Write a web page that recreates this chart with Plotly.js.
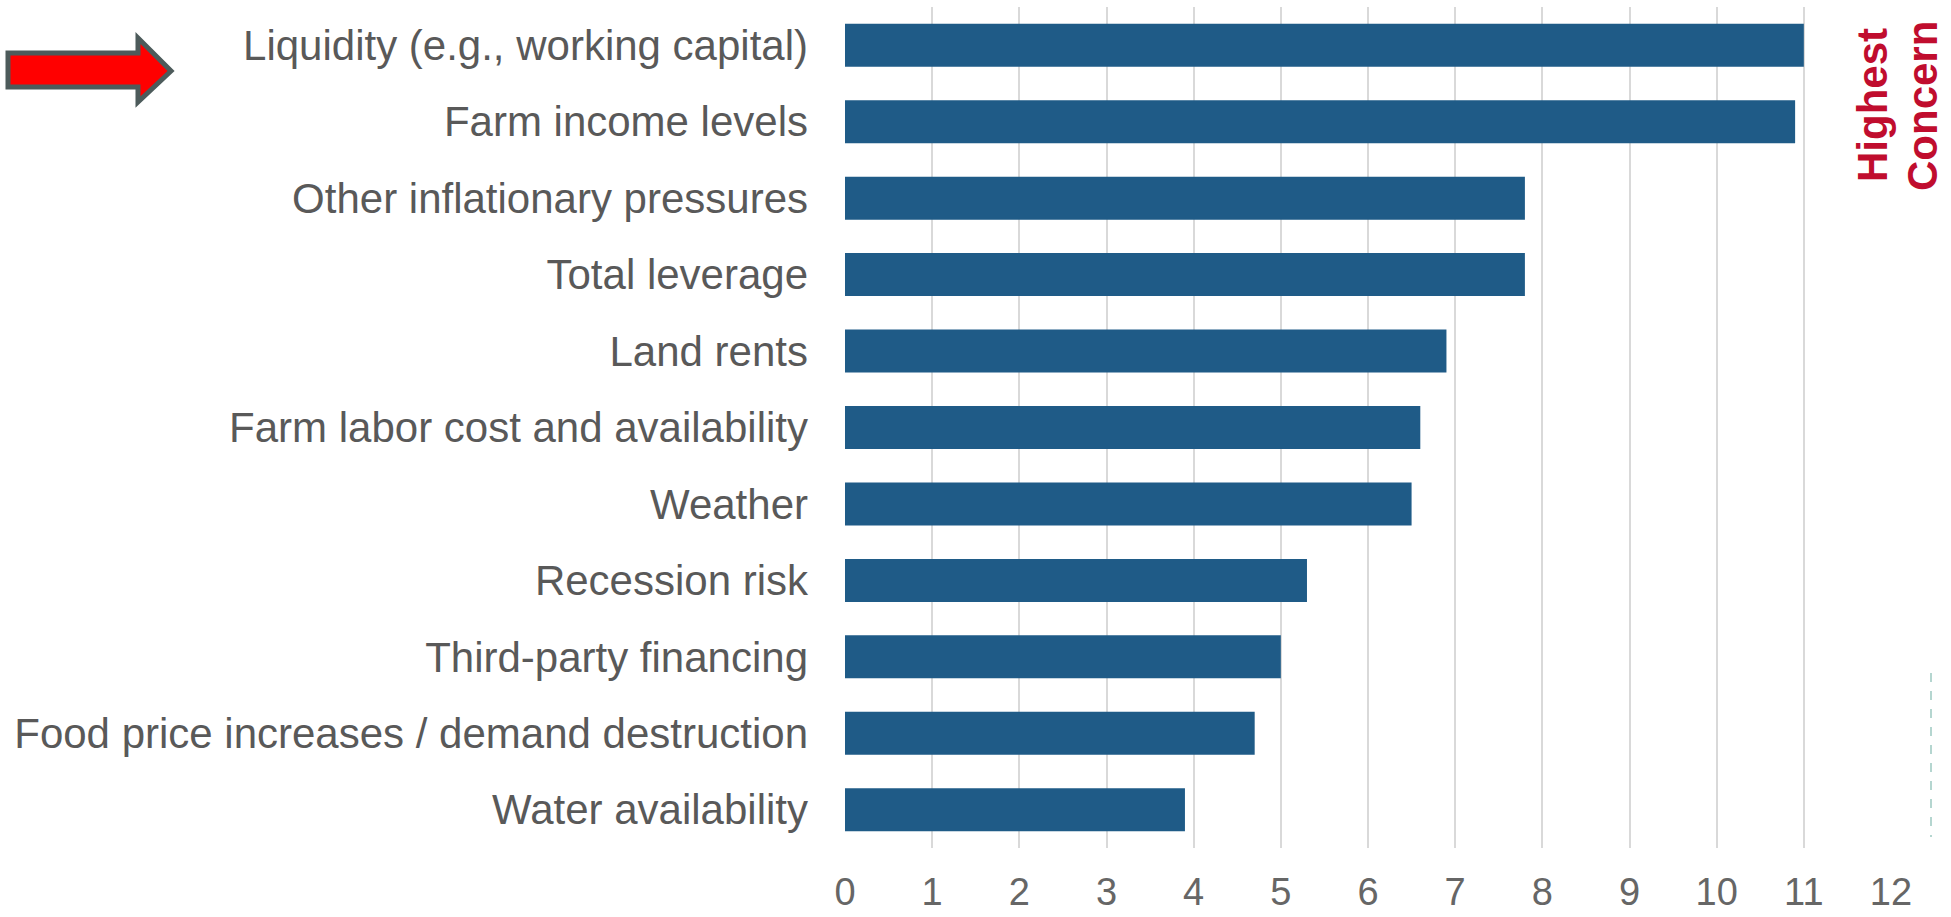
<!DOCTYPE html>
<html>
<head>
<meta charset="utf-8">
<script src="https://cdn.plot.ly/plotly-3.0.1.min.js"></script>
<style>html,body{margin:0;padding:0;background:#fff;}#chart{width:1951px;height:917px;}</style>
</head>
<body>
<div id="chart"></div>
<script>
const categories = [
  "Liquidity (e.g., working capital)",
  "Farm income levels",
  "Other inflationary pressures",
  "Total leverage",
  "Land rents",
  "Farm labor cost and availability",
  "Weather",
  "Recession risk",
  "Third-party financing",
  "Food price increases / demand destruction",
  "Water availability"
];
const values = [11.0, 10.9, 7.8, 7.8, 6.9, 6.6, 6.5, 5.3, 5.0, 4.7, 3.9];
const xTicks = [0,1,2,3,4,5,6,7,8,9,10,11,12];

const W = 1951, H = 917;
const px = x => x / W;
const py = y => 1 - y / H;

const arrowPts = [[8,53],[138,53],[138,38],[171,71],[138,102],[138,87],[8,87]];
const arrowPath = 'M ' + arrowPts.map(p => px(p[0]).toFixed(5) + ',' + py(p[1]).toFixed(5)).join(' L ') + ' Z';

const labelFont = "'Liberation Sans', Arial, Helvetica, sans-serif";

const trace = {
  type: 'bar',
  orientation: 'h',
  y: categories,
  x: values,
  marker: {color: '#1f5b87', line: {width: 0}},
  hoverinfo: 'x+y'
};

const layout = {
  width: W, height: H,
  margin: {l: 0, r: 0, t: 0, b: 0},
  paper_bgcolor: '#ffffff',
  plot_bgcolor: '#ffffff',
  showlegend: false,
  bargap: 0.4375,
  xaxis: {
    domain: [px(845), px(1891)],
    range: [0, 12],
    tickvals: xTicks,
    ticktext: xTicks.map(String),
    showgrid: true,
    gridcolor: '#d9d9d9',
    gridwidth: 2,
    zeroline: false,
    showline: false,
    ticks: '',
    ticklabelstandoff: 18,
    tickfont: {family: labelFont, size: 38, color: '#666666'}
  },
  yaxis: {
    domain: [py(848), py(7)],
    autorange: 'reversed',
    type: 'category',
    showgrid: false,
    zeroline: false,
    showline: false,
    ticks: '',
    ticklabelstandoff: 36,
    tickfont: {family: labelFont, size: 42, color: '#595959'}
  },
  shapes: [
    {type: 'path', xref: 'paper', yref: 'paper', path: arrowPath,
     fillcolor: '#ff0000', line: {color: '#4d5b5b', width: 5}},
    {type: 'line', xref: 'paper', yref: 'paper', x0: px(1931), x1: px(1931), y0: py(673), y1: py(837),
     line: {color: '#b5d6d0', width: 2, dash: 'dash'}}
  ],
  annotations: [
    {text: 'Highest', xref: 'paper', yref: 'paper', x: px(1873), y: py(105), xanchor: 'center', yanchor: 'middle',
     textangle: -90, showarrow: false, font: {family: labelFont, size: 42, color: '#c00d2e', weight: 'bold'}},
    {text: 'Concern', xref: 'paper', yref: 'paper', x: px(1923), y: py(106), xanchor: 'center', yanchor: 'middle',
     textangle: -90, showarrow: false, font: {family: labelFont, size: 42, color: '#c00d2e', weight: 'bold'}}
  ]
};

Plotly.newPlot('chart', [trace], layout, {displayModeBar: false, staticPlot: true});
</script>
</body>
</html>
